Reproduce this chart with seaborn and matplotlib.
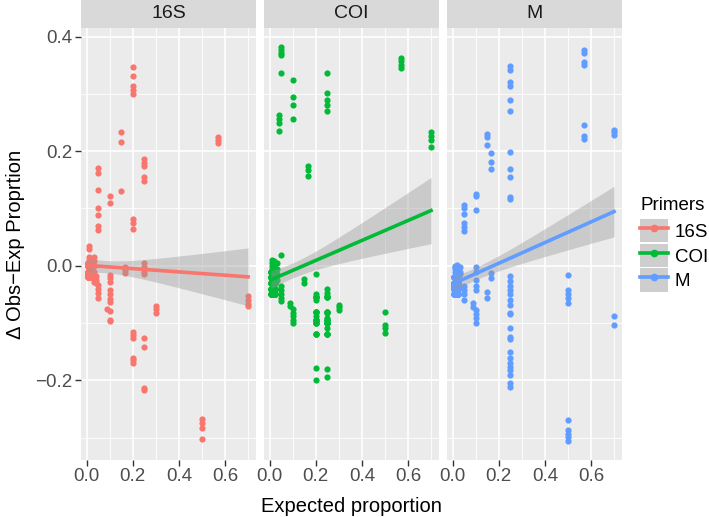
import numpy as np
import pandas as pd
import matplotlib
matplotlib.use('Agg')
import matplotlib.pyplot as plt
import matplotlib.patches as mpatches
import matplotlib.ticker as mticker
from matplotlib.lines import Line2D
import seaborn as sns

# Data (expected proportion vs obs-exp difference)
# 16S - visible points
x_16s = ([0.01] * 8 + [0.02] * 6 + [0.03] * 6 + [0.05] * 11 + [0.04] * 3 + [0.1] * 12 + [0.09]
         + [0.15] * 3 + [0.167] * 3 + [0.2] * 14 + [0.25] * 13 + [0.3] * 3 + [0.5] * 4
         + [0.57] * 3 + [0.7] * 4)
y_16s = [0.035, 0.03, 0.015, 0.01, 0.005, 0.0, -0.005, -0.01,
         0.012, 0.005, 0.0, -0.008, -0.015, -0.02,
         0.015, 0.008, 0.0, -0.01, -0.02, -0.028,
         0.17, 0.162, 0.133, 0.10, 0.089, 0.07, 0.062, -0.033, -0.04, -0.048, -0.056,
         -0.018, -0.025, -0.03,
         0.122, 0.11, -0.016, -0.022, -0.028, -0.043, -0.049, -0.058, -0.064, -0.079, -0.094, -0.097,
         -0.076,
         0.233, 0.216, 0.131,
         -0.003, -0.008, -0.012,
         0.347, 0.331, 0.314, 0.307, 0.30, 0.081, 0.074, 0.065, -0.115, -0.12, -0.126, -0.161, -0.165, -0.17,
         0.186, 0.18, 0.175, 0.155, 0.148, 0.005, -0.002, -0.01, -0.015, -0.126, -0.141, -0.214, -0.217,
         -0.071, -0.076, -0.082,
         -0.267, -0.275, -0.284, -0.303,
         0.225, 0.22, 0.215,
         -0.053, -0.06, -0.066, -0.071]
# 16S - overplotted blob near the origin (estimated)
x_16s_blob = [0.005] * 30 + [0.01] * 30 + [0.015] * 30 + [0.02] * 30 + [0.025] * 30
y_16s_blob = [0.005, 0.0, -0.01, -0.015, -0.02] * 30

# COI - visible points
x_coi = ([0.01] * 6 + [0.02] * 5 + [0.03] * 4 + [0.04] * 4 + [0.05] * 11 + [0.09] * 2 + [0.1] * 9
         + [0.167] * 3 + [0.15] * 2 + [0.2] * 9 + [0.25] * 15 + [0.3] * 3 + [0.5] * 4
         + [0.57] * 4 + [0.7] * 4)
y_coi = [0.01, 0.005, 0.0, -0.005, -0.01, -0.015,
         0.008, 0.0, -0.01, -0.02, -0.024,
         0.005, -0.005, -0.015, -0.025,
         0.264, 0.257, 0.249, 0.236,
         0.381, 0.376, 0.372, 0.368, 0.336, 0.019, -0.036, -0.042, -0.05, -0.056, -0.062,
         -0.065, -0.07,
         0.324, 0.294, 0.28, 0.257, -0.075, -0.082, -0.088, -0.094, -0.1,
         0.175, 0.168, 0.157,
         -0.023, -0.03,
         -0.014, -0.05, -0.055, -0.059, -0.08, -0.087, -0.094, -0.178, -0.2,
         0.337, 0.302, 0.29, 0.28, 0.271, -0.04, -0.047, -0.053, -0.082, -0.091, -0.1, -0.109, -0.119,
         -0.181, -0.194,
         -0.068, -0.072, -0.077,
         -0.081, -0.103, -0.109, -0.118,
         0.363, 0.357, 0.351, 0.346,
         0.233, 0.226, 0.219, 0.207]
# COI - overplotted points (blob near origin and the dense 0.2/0.25 columns)
x_coi_blob = ([0.005] * 30 + [0.01] * 30 + [0.015] * 30 + [0.02] * 30 + [0.025] * 30
              + [0.2] * 15 + [0.25] * 15)
y_coi_blob = [-0.01, -0.02, -0.03, -0.04, -0.05] * 30 + [-0.055, -0.08, -0.094, -0.1, -0.119] * 6

# M - visible points
x_m = ([0.01] * 4 + [0.02] * 4 + [0.03] * 3 + [0.05] * 10 + [0.09] * 2 + [0.1] * 12
       + [0.15] * 5 + [0.167] * 5 + [0.25] * 31 + [0.5] * 10 + [0.57] * 7 + [0.7] * 4)
y_m = [0.0, -0.005, -0.01, -0.003,
       0.002, -0.006, -0.012, -0.008,
       -0.002, -0.01, -0.015,
       0.106, 0.10, 0.091, 0.074, 0.067, 0.06, -0.036, -0.042, -0.05, -0.059,
       -0.065, -0.072,
       0.126, 0.121, 0.097, -0.003, -0.01, -0.025, -0.035, -0.042, -0.078, -0.085, -0.092, -0.1,
       0.230, 0.225, 0.211, -0.046, -0.056,
       0.196, 0.181, 0.169, -0.012, -0.021,
       0.349, 0.341, 0.321, 0.314, 0.289, 0.271, 0.198, 0.169, 0.155, 0.12, 0.116,
       -0.018, -0.027, -0.036, -0.042, -0.05, -0.059, -0.068, -0.082, -0.085, -0.109, -0.124,
       -0.128, -0.15, -0.161, -0.17, -0.176, -0.182, -0.191, -0.205, -0.211,
       -0.016, -0.042, -0.05, -0.056, -0.065, -0.27, -0.287, -0.293, -0.299, -0.305,
       0.376, 0.371, 0.356, 0.35, 0.245, 0.227, 0.222,
       0.237, 0.229, -0.088, -0.103]
# M - overplotted points
x_m_blob = [0.005] * 40 + [0.01] * 40 + [0.015] * 40 + [0.02] * 40 + [0.025] * 40 + [0.7]
y_m_blob = [-0.02, -0.03, -0.035, -0.04, -0.05] * 40 + [0.233]

primers = ['16S', 'COI', 'M']
PALETTE = {'16S': '#F8766D', 'COI': '#00BA38', 'M': '#619CFF'}

df = pd.concat([
    pd.DataFrame({'expected': x_16s + x_16s_blob, 'delta': y_16s + y_16s_blob, 'primer': '16S'}),
    pd.DataFrame({'expected': x_coi + x_coi_blob, 'delta': y_coi + y_coi_blob, 'primer': 'COI'}),
    pd.DataFrame({'expected': x_m + x_m_blob, 'delta': y_m + y_m_blob, 'primer': 'M'}),
], ignore_index=True)

plt.rcParams.update({
    'font.family': ['Liberation Sans', 'DejaVu Sans'],
    'axes.facecolor': '#EBEBEB',
    'figure.facecolor': 'white',
})

fig, axes = plt.subplots(1, 3, figsize=(7.09, 5.17), dpi=100, sharey=True)
fig.subplots_adjust(left=81 / 709, right=622 / 709, bottom=1 - 460 / 517, top=1 - 28 / 517,
                    wspace=8 / 175)

strip_h = 28 / 432
for ax, p in zip(axes, primers):
    sub = df[df['primer'] == p]
    sns.regplot(data=sub, x='expected', y='delta', ax=ax, color=PALETTE[p], ci=None,
                scatter_kws={'s': 20, 'alpha': 1, 'linewidths': 0, 'zorder': 2},
                line_kws={'lw': 2.6, 'zorder': 4})

    # analytic 95% band of the linear fit (like geom_smooth(method = 'lm'))
    xv, yv = sub['expected'].values, sub['delta'].values
    n = len(xv)
    b, a = np.polyfit(xv, yv, 1)
    s = np.sqrt(np.sum((yv - (a + b * xv)) ** 2) / (n - 2))
    sxx = np.sum((xv - xv.mean()) ** 2)
    xg = np.linspace(xv.min(), xv.max(), 100)
    half = 1.97 * s * np.sqrt(1 / n + (xg - xv.mean()) ** 2 / sxx)
    ax.fill_between(xg, a + b * xg - half, a + b * xg + half, color='#999999', alpha=0.4,
                    lw=0, zorder=3)

    ax.set_xlim(-0.0245, 0.7345)
    ax.set_ylim(-0.339, 0.415)
    ax.set_xticks([0.0, 0.2, 0.4, 0.6])
    ax.set_xticks([0.1, 0.3, 0.5, 0.7], minor=True)
    ax.set_yticks([-0.2, 0.0, 0.2, 0.4])
    ax.set_yticks([-0.3, -0.1, 0.1, 0.3], minor=True)
    ax.xaxis.set_major_formatter(mticker.FormatStrFormatter('%.1f'))
    ax.grid(True, which='major', color='white', lw=1.2)
    ax.grid(True, which='minor', color='white', lw=0.6)
    ax.set_axisbelow(True)
    for sp in ax.spines.values():
        sp.set_visible(False)
    ax.tick_params(which='major', length=4, width=1, color='#333333',
                   labelcolor='#4D4D4D', labelsize=13.5, pad=2)
    ax.tick_params(which='minor', length=0)
    ax.set_xlabel('')
    ax.set_ylabel('')

    # facet strip
    ax.add_patch(mpatches.Rectangle((0, 1), 1, strip_h, transform=ax.transAxes,
                                    facecolor='#D9D9D9', edgecolor='none', clip_on=False))
    ax.text(0.5, 1 + strip_h / 2, p, transform=ax.transAxes, ha='center', va='center',
            fontsize=14, color='#1A1A1A')

axes[0].yaxis.set_major_formatter(mticker.FuncFormatter(
    lambda v, pos: '0.0' if abs(v) < 1e-9 else f'{v:.1f}'.replace('-', '\u2212')))
for ax in axes[1:]:
    ax.tick_params(axis='y', which='both', left=False, labelleft=False)

fig.text(351 / 709, 1 - 506 / 517, 'Expected proportion', ha='center', va='center',
         fontsize=14.5, color='black')
fig.text(16 / 709, 1 - 244 / 517, '\u0394 Obs\u2212Exp Proprtion', ha='center', va='center',
         rotation=90, fontsize=14.5, color='black')

# legend: gray key background with line + point on top
fig.text(640 / 709, 1 - 205 / 517, 'Primers', ha='left', va='center', fontsize=13.5)
handles = []
for p in primers:
    bg = mpatches.Patch(facecolor='#CECECE', edgecolor='none')
    ln = Line2D([], [], color=PALETTE[p], lw=2.6, marker='o', markersize=4.5)
    handles.append((bg, ln))
fig.legend(handles, primers, loc='upper left',
           bbox_to_anchor=(640 / 709, 1 - 219 / 517), frameon=False,
           fontsize=13.5, handlelength=1.5, handleheight=1.55,
           labelspacing=0.06, handletextpad=0.35, borderpad=0, borderaxespad=0)

plt.savefig('out.png', dpi=100)
